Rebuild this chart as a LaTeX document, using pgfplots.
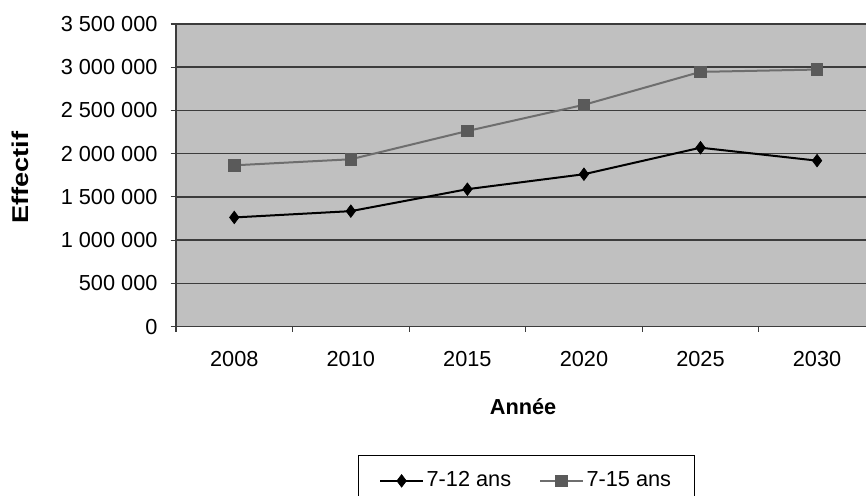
\documentclass[border=0pt]{standalone}
\usepackage{pgfplots}
\pgfplotsset{compat=1.18}
\usepackage{fontspec}
\setmainfont{Liberation Sans}

\definecolor{plotbg}{RGB}{192,192,192}
\definecolor{gridc}{RGB}{60,60,60}
\definecolor{grayline}{RGB}{110,110,110}
\definecolor{graymark}{RGB}{90,90,90}

% 7-12 ans
\pgfplotstableread{
x y
0 1262000
1 1335000
2 1589000
3 1762000
4 2069000
5 1919000
}\septdouze
% 7-15 ans
\pgfplotstableread{
x y
0 1865000
1 1935000
2 2262000
3 2565000
4 2946000
5 2973000
}\septquinze

\begin{document}
{\fontsize{16.3}{19.6}\selectfont
\begin{tikzpicture}
\begin{axis}[
  at={(0,0)}, anchor=south west,
  scale only axis,
  width=517.5pt, height=226.9pt,
  axis lines*=left,
  axis line style={draw=gridc, line width=1pt},
  axis background/.style={fill=plotbg},
  xmin=-0.5, xmax=5.42,
  ymin=0, ymax=3500000,
  ytick distance=500000,
  scaled y ticks=false,
  /pgf/number format/fixed,
  /pgf/number format/precision=0,
  /pgf/number format/1000 sep={\ },
  /pgf/number format/assume math mode=true,
  ymajorgrids,
  major grid style={draw=gridc, line width=1.1pt},
  tick align=outside,
  major tick length=4pt,
  tick style={draw=gridc, line width=0.8pt},
  xtick={-0.5,0.5,1.5,2.5,3.5,4.5},
  xticklabels={},
  extra x ticks={0,1,2,3,4,5},
  extra x tick labels={2008,2010,2015,2020,2025,2030},
  extra x tick style={major tick length=0pt, grid=none},
  xticklabel style={anchor=north, inner sep=0pt, yshift=-18.4pt},
  yticklabel style={anchor=east, inner sep=0pt, xshift=-9.7pt},
  xlabel={\textbf{Année}},
  ylabel={\scalebox{1.25}[1.05]{\textbf{Effectif}}},
  xlabel style={at={(axis description cs:0.503,-0.265)}, anchor=center},
  ylabel style={at={(axis description cs:-0.2257,0.4926)}, anchor=center},
  legend columns=2,
  legend style={at={(axis description cs:0.508,-0.425)}, anchor=north,
    draw=black, line width=0.8pt, inner xsep=15.5pt, inner ysep=10pt,
    /tikz/every even column/.append style={column sep=19pt}},
  legend cell align=left,
  legend image code/.code={%
    \draw[mark repeat=2,mark phase=2,#1] plot coordinates {(0pt,0pt) (16pt,0pt) (32pt,0pt)};},
]
\addplot[black, line width=1.5pt, mark=diamond*, mark size=4.7pt,
  mark options={fill=black, draw=black, line width=0.5pt}]
  table[x=x, y=y] {\septdouze};
\addlegendentry{7-12 ans}
\addplot[grayline, line width=1.5pt, mark=square*, mark size=4.3pt,
  mark options={fill=graymark, draw=graymark, line width=0.5pt}]
  table[x=x, y=y] {\septquinze};
\addlegendentry{7-15 ans}
\end{axis}
\pgfresetboundingbox
\path[use as bounding box] (-132pt,-126.4pt) rectangle (517.5pt,244.9pt);
\end{tikzpicture}}
\end{document}
